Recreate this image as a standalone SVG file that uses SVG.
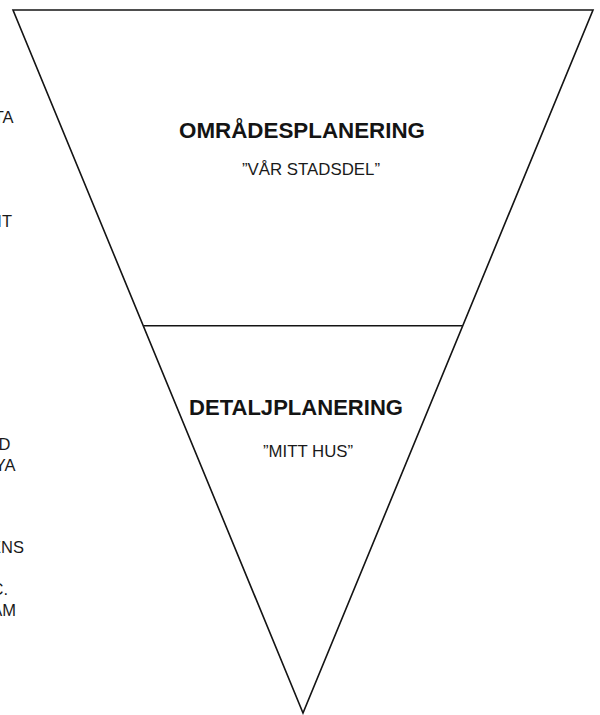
<svg xmlns="http://www.w3.org/2000/svg" width="600" height="715" viewBox="0 0 600 715">
  <style>
    .edge { fill: none; stroke: #141414; stroke-width: 1.6; stroke-linejoin: miter; }
    .title { font-family: "Liberation Sans", Arial, sans-serif; font-weight: bold; font-size: 22px; fill: #141414; }
    .sub { font-family: "Liberation Sans", Arial, sans-serif; font-size: 16.5px; fill: #1a1a1a; }
    .side { font-family: "Liberation Sans", Arial, sans-serif; font-size: 16.5px; fill: #1a1a1a; text-anchor: end; }
  </style>
  <rect width="600" height="715" fill="#ffffff"/>

  <g id="funnel">
    <polygon class="edge" points="13,10 593,10 303,713"/>
    <line class="edge" x1="144" y1="325.7" x2="462" y2="325.7" stroke-width="1.4"/>
  </g>

  <g id="side-text">
    <text class="side" x="13.5" y="123">TA</text>
    <text class="side" x="12" y="227">IT</text>
    <text class="side" x="10.5" y="450">D</text>
    <text class="side" x="15.5" y="471">YA</text>
    <text class="side" x="24" y="553">ENS</text>
    <text class="side" x="8" y="595">C.</text>
    <text class="side" x="16" y="616">AM</text>
  </g>

  <g id="omradesplanering">
    <text class="title" x="179" y="137.5" textLength="246" lengthAdjust="spacingAndGlyphs">OMRÅDESPLANERING</text>
    <text class="sub" x="242" y="175" textLength="138" lengthAdjust="spacingAndGlyphs">”VÅR STADSDEL”</text>
  </g>

  <g id="detaljplanering">
    <text class="title" x="189" y="415" textLength="214" lengthAdjust="spacingAndGlyphs">DETALJPLANERING</text>
    <text class="sub" x="263" y="457" textLength="90" lengthAdjust="spacingAndGlyphs">”MITT HUS”</text>
  </g>

  <g id="connectors"></g>
</svg>
